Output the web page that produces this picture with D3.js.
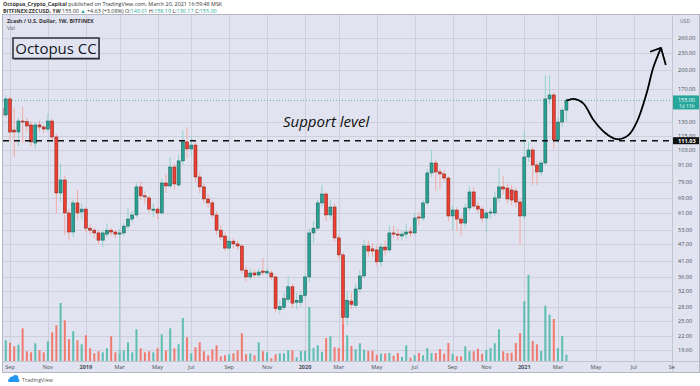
<!DOCTYPE html>
<html>
<head>
<meta charset="utf-8">
<script src="https://cdn.jsdelivr.net/npm/d3@7"></script>
<style>
  body { margin: 0; background: #fff; }
  svg { display: block; font-family: "Open Sans", "Noto Sans", sans-serif; }
</style>
</head>
<body>
<div id="chart"></div>
<script>
// weekly ZEC/USD candles, first week starts 2018-08-20
var firstWeek = "2018-08-20";
var opens = [145, 137.4, 156.9, 121.3, 119.3, 130.7, 130.0, 126.5, 108.9, 126.5,
  124.4, 122.3, 130.7, 114.5, 72.0, 80.2, 61.0, 52.1, 66.3, 61.5,
  63.0, 53.8, 52.9, 51.7, 48.7, 51.2, 52.9, 52.1, 51.2, 51.7,
  54.7, 58.0, 60.0, 75.7, 70.3, 69.1, 62.4, 63.0, 61.0, 78.2,
  76.3, 89.3, 76.9, 93.9, 109.9, 103.7, 107.1, 82.2, 75.7, 68.5,
  66.3, 60.0, 52.9, 50.4, 45.6, 48.3, 47.2, 46.4, 38.0, 35.9,
  37.1, 36.5, 37.7, 37.1, 37.1, 35.9, 27.4, 27.9, 29.8, 33.1,
  29.1, 29.1, 30.8, 35.9, 51.7, 53.8, 66.3, 71.4, 60.0, 64.1,
  49.6, 43.1, 25.7, 29.4, 28.4, 32.5, 36.2, 46.4, 45.3, 44.9,
  40.7, 46.0, 44.9, 51.7, 51.2, 50.4, 51.2, 52.2, 51.7, 59.0,
  58.5, 66.3, 85.0, 92.3, 85.7, 84.3, 81.5, 59.5, 62.5, 58.0,
  56.1, 63.6, 72.6, 64.6, 63.0, 58.5, 61.0, 61.0, 69.1, 75.7,
  75.0, 73.8, 73.2, 66.8, 59.5, 97.0, 102.8, 90.8, 85.7, 92.3,
  156.9, 162.2, 111.7, 129.6, 143.01];
var closes = [137, 156.9, 119.3, 119.3, 130.7, 130.0, 125.4, 109.9, 126.5, 124.4,
  122.3, 130.7, 114.5, 72.0, 80.2, 61.0, 52.1, 66.3, 61.0, 63.0,
  53.8, 52.9, 51.7, 48.7, 51.7, 52.9, 52.1, 51.2, 51.7, 54.7,
  58.0, 60.0, 75.7, 70.3, 69.7, 63.0, 63.0, 61.0, 78.2, 76.3,
  89.3, 77.6, 93.9, 109.9, 103.7, 107.1, 82.2, 75.7, 68.5, 66.3,
  60.0, 52.9, 50.0, 45.6, 48.3, 47.2, 46.4, 38.0, 35.9, 37.1,
  36.5, 37.4, 37.3, 37.6, 35.9, 27.6, 28.1, 30.0, 33.1, 28.9,
  29.6, 30.8, 35.9, 51.7, 53.8, 66.3, 71.4, 60.0, 64.1, 49.6,
  43.1, 25.7, 29.6, 28.6, 32.5, 36.2, 46.4, 44.5, 44.5, 40.7,
  46.0, 44.9, 51.7, 51.2, 50.8, 51.2, 52.1, 51.7, 58.5, 58.5,
  66.3, 85.0, 92.3, 85.7, 84.3, 81.5, 59.5, 62.5, 58.0, 56.1,
  63.6, 72.6, 64.6, 63.0, 58.5, 61.0, 61.5, 69.1, 75.7, 74.4,
  68.5, 67.9, 66.8, 59.5, 97.0, 102.8, 90.8, 85.7, 92.3, 156.9,
  162.2, 111.7, 129.6, 143.0, 155.0];
var highs = [150, 162, 160, 146, 134, 147, 134, 130, 129, 131,
  127, 139, 133, 117, 92, 83, 63, 68, 74, 66,
  64, 55.5, 54, 53, 53, 56, 54, 53, 53.5, 56,
  63.6, 62, 78, 79, 73, 70.5, 66, 64, 81, 84,
  97, 92, 99, 121, 124, 115, 109, 86, 78, 71,
  68, 62, 55, 52, 50, 49.5, 48.5, 47.2, 39.5, 38.5,
  38.2, 38.4, 42, 38.8, 38, 36.5, 29.5, 31.5, 36, 34,
  31.5, 32, 37, 53.5, 57, 68, 77, 72.5, 68, 66,
  51, 44, 32, 31.5, 34, 38, 49, 48.5, 47.5, 46.5,
  47.5, 48.5, 55, 55, 53.5, 53, 56, 54.5, 61, 61.5,
  68, 88, 102.8, 95, 88, 87, 83, 65, 64, 60,
  66, 76, 75.7, 67, 64.5, 62.5, 63.5, 73, 89, 83,
  78, 77, 75, 69, 121, 110, 105, 94, 95, 191,
  191, 166, 134, 147, 158.19];
var lows = [133, 135, 110, 97, 106, 109, 120, 106, 104, 120,
  118, 119, 110, 61, 67, 51, 48.7, 50, 58, 58,
  52, 51, 49.5, 47, 46, 50, 50.5, 49.5, 19, 50.5,
  53.5, 56.5, 59, 68, 66, 61, 59, 58, 60, 72,
  75, 74, 76, 91, 96, 98, 79, 72, 66, 63.5,
  58.5, 51, 48.5, 44.5, 44.8, 45.5, 45, 37, 34.5, 35,
  35.5, 35.6, 36.4, 36.3, 35, 26.8, 26.5, 27.2, 29, 27.8,
  27.5, 28.2, 30, 34.5, 47.5, 52.5, 64, 57, 58, 48,
  41.5, 24.3, 24, 27.5, 27.8, 31.5, 35.5, 42.5, 42.5, 39.5,
  39, 43, 44.2, 49.5, 48.5, 48.5, 49.5, 50, 51, 55,
  57, 65, 82, 73, 74, 79, 57, 53, 52.5, 50.8,
  54, 62, 63, 61, 56.5, 52, 58, 59.5, 67, 71,
  66, 65, 64, 46.8, 58, 93, 76.9, 76.9, 83, 91,
  150, 103.7, 109, 125, 130.17];
var volumes = [14, 20.7, 18.3, 14.7, 16.3, 32.7, 9.7, 8.7, 17.7, 10.7,
  8.7, 19.7, 28.7, 35.7, 58, 40.7, 21.7, 29.7, 20.7, 16.7,
  25.7, 12.7, 7.7, 9.7, 8.7, 12.7, 24.7, 8.7, 10.7, 10.7,
  18.7, 8.7, 31.7, 12.7, 8.7, 9.7, 8.7, 12.7, 26.7, 10.7,
  32.7, 12.7, 16.7, 43, 23.7, 7.7, 13.7, 18.7, 9.7, 5.7,
  11.7, 15.7, 4.7, 5.7, 6.7, 7.7, 10.7, 27.7, 6.7, 7.7,
  5.7, 18.7, 9.7, 8.7, 2.7, 6.7, 7.7, 7.7, 10.7, 10.7,
  3.7, 10, 10, 54, 13, 15.7, 9, 23, 24.7, 13.7,
  13, 44, 25.7, 15, 11.7, 17.7, 11.3, 10, 10.3, 6.3,
  7.3, 7.3, 8, 5.3, 8, 4, 15.7, 3.3, 5.7, 8,
  5.7, 13, 8, 8, 12, 7.3, 18, 7.3, 4.7, 4.7,
  14.7, 9.7, 9.7, 12.3, 7.3, 11, 13, 17.7, 31.7, 9.7,
  8, 8.3, 18, 28, 59.7, 86.3, 20, 16.7, 10, 55.3,
  46.3, 42, 13, 25, 6.3];

var priceTicks = [260, 230, 200, 170, 130, 115, 103, 91, 79, 69, 61, 53, 47, 41, 36, 32, 28, 25, 22, 19.6];
var timeTicks = ["2018-09-03", "2018-11-05", "2019-01-07", "2019-03-04", "2019-05-06", "2019-07-01",
  "2019-09-02", "2019-11-04", "2020-01-06", "2020-03-02", "2020-05-04", "2020-07-06",
  "2020-09-07", "2020-11-02", "2021-01-04", "2021-03-01", "2021-05-03", "2021-07-05", "2021-09-06"];
var timeLabels = ["Sep", "Nov", "2019", "Mar", "May", "Jul", "Sep", "Nov", "2020", "Mar", "May", "Jul",
  "Sep", "Nov", "2021", "Mar", "May", "Jul", "Se"];

var lastPrice = 155.00;
var supportPrice = 111.03;

// hand-drawn forecast curve and arrow head
var curveDates = ["2021-03-15", "2021-03-18", "2021-03-27", "2021-04-12", "2021-04-29", "2021-05-18",
  "2021-06-06", "2021-06-26", "2021-07-10", "2021-07-26", "2021-08-06", "2021-08-19"];
var curvePrices = [155, 155.5, 157, 151.3, 131.8, 118.6, 112.4, 116.3, 129.8, 164.1, 202.7, 239.6];
var headDates = ["2021-08-01", "2021-08-19", "2021-08-27"];
var headPrices = [232, 239.6, 208];

var W = 700, H = 386;
var plotLeft = 3, plotRight = 672, plotTop = 14, plotBottom = 361;
var parse = d3.utcParse("%Y-%m-%d");

var start = parse(firstWeek);
var weeks = d3.utcMonday.range(start, d3.utcDay.offset(start, 7 * opens.length));
var candles = weeks.map(function (d, i) {
  return { date: d, o: opens[i], c: closes[i], h: highs[i], l: lows[i], v: volumes[i] };
});

var x = d3.scaleUtc()
  .domain([parse("2018-09-03"), parse("2021-03-01")])
  .range([10, 558]);

var y = d3.scaleLog()
  .domain([260, 19.6])
  .range([38, 350]);

var yVol = d3.scaleLinear()
  .domain([0, d3.max(volumes)])
  .range([plotBottom, plotBottom - 86.3]);

var svg = d3.select("#chart").append("svg")
  .attr("width", W)
  .attr("height", H);

// panel background
svg.append("rect")
  .attr("x", 2.5).attr("y", plotTop + 0.5)
  .attr("width", W - 3).attr("height", 372 - plotTop)
  .attr("fill", "#e1e4f0")
  .attr("stroke", "#b4b7c2");

var defs = svg.append("defs");
defs.append("clipPath").attr("id", "plot")
  .append("rect")
  .attr("x", plotLeft).attr("y", plotTop + 1)
  .attr("width", plotRight - plotLeft).attr("height", plotBottom - plotTop - 1);

// grid
var grid = svg.append("g");
grid.selectAll(".hg")
  .data(priceTicks)
  .enter().append("line")
  .attr("x1", plotLeft).attr("x2", plotRight)
  .attr("y1", function (d) { return Math.round(y(d)) + 0.5; })
  .attr("y2", function (d) { return Math.round(y(d)) + 0.5; })
  .attr("stroke", "#cdd0dc");
grid.selectAll(".vg")
  .data(timeTicks)
  .enter().append("line")
  .attr("x1", function (d) { return Math.round(x(parse(d))) + 0.5; })
  .attr("x2", function (d) { return Math.round(x(parse(d))) + 0.5; })
  .attr("y1", plotTop + 1).attr("y2", plotBottom)
  .attr("stroke", "#cdd0dc");

// axis separators
svg.append("line").attr("x1", plotRight + 0.5).attr("x2", plotRight + 0.5)
  .attr("y1", plotTop).attr("y2", 372).attr("stroke", "#c3c6d1");
svg.append("line").attr("x1", plotLeft).attr("x2", W - 1)
  .attr("y1", plotBottom + 0.5).attr("y2", plotBottom + 0.5).attr("stroke", "#c3c6d1");

var plot = svg.append("g").attr("clip-path", "url(#plot)");

// volume
plot.append("g").selectAll("rect")
  .data(candles)
  .enter().append("rect")
  .attr("x", function (d) { return x(d.date) - 1; })
  .attr("width", 2)
  .attr("y", function (d) { return yVol(d.v); })
  .attr("height", function (d) { return plotBottom - yVol(d.v); })
  .attr("fill", function (d) { return d.c >= d.o ? "#5dbdb1" : "#f07a6f"; });

// last price dotted line
plot.append("line")
  .attr("x1", plotLeft).attr("x2", plotRight)
  .attr("y1", y(lastPrice)).attr("y2", y(lastPrice))
  .attr("stroke", "#4fb8ad").attr("stroke-width", 1)
  .attr("stroke-dasharray", "1,2");

// candles
var cg = plot.append("g").selectAll("g")
  .data(candles)
  .enter().append("g");

cg.append("line")
  .attr("x1", function (d) { return x(d.date); })
  .attr("x2", function (d) { return x(d.date); })
  .attr("y1", function (d) { return y(d.h); })
  .attr("y2", function (d) { return y(d.l); })
  .attr("stroke", function (d) { return d.c >= d.o ? "#93d2ca" : "#f2aaa4"; })
  .attr("stroke-width", 1);

cg.append("rect")
  .attr("x", function (d) { return x(d.date) - 1.5; })
  .attr("width", 3)
  .attr("y", function (d) { return y(Math.max(d.o, d.c)); })
  .attr("height", function (d) { return Math.max(1, Math.abs(y(d.o) - y(d.c))); })
  .attr("fill", function (d) { return d.c >= d.o ? "#26a193" : "#ef3d30"; })
  .attr("stroke", function (d) { return d.c >= d.o ? "#1d5a53" : "#7a231c"; })
  .attr("stroke-width", 0.5);

// support level dashed line
plot.append("line")
  .attr("x1", plotLeft).attr("x2", plotRight)
  .attr("y1", y(supportPrice)).attr("y2", y(supportPrice))
  .attr("stroke", "#111").attr("stroke-width", 1.6)
  .attr("stroke-dasharray", "6,5");

// forecast curve
var curveLine = d3.line()
  .x(function (d) { return x(parse(d[0])); })
  .y(function (d) { return y(d[1]); })
  .curve(d3.curveCatmullRom);
svg.append("path")
  .datum(d3.zip(curveDates, curvePrices))
  .attr("d", curveLine)
  .attr("fill", "none").attr("stroke", "#000").attr("stroke-width", 1.8);
svg.append("path")
  .datum(d3.zip(headDates, headPrices))
  .attr("d", d3.line().x(function (d) { return x(parse(d[0])); }).y(function (d) { return y(d[1]); }))
  .attr("fill", "none").attr("stroke", "#000").attr("stroke-width", 1.8)
  .attr("stroke-linejoin", "round");

// texts
svg.append("text")
  .attr("x", 283).attr("y", 127)
  .attr("font-size", 15).attr("font-style", "italic")
  .attr("fill", "#111")
  .text("Support level");

var box = svg.append("g");
box.append("rect")
  .attr("x", 14).attr("y", 39).attr("width", 86).attr("height", 21)
  .attr("fill", "#9a9ca4");
box.append("rect")
  .attr("x", 13).attr("y", 38).attr("width", 86).attr("height", 20.5)
  .attr("fill", "#e1e4f0").attr("stroke", "#2a2c33").attr("stroke-width", 1.5);
box.append("text")
  .attr("x", 56).attr("y", 54)
  .attr("text-anchor", "middle")
  .attr("font-size", 15)
  .attr("fill", "#131722")
  .text("Octopus CC");

// price axis labels (115 sits partly under the support label, as in the original)
svg.append("g").selectAll("text")
  .data(priceTicks)
  .enter().append("text")
  .attr("x", 678)
  .attr("y", function (d) { return y(d) + 2; })
  .attr("font-size", 5.6)
  .attr("fill", "#4a4e59")
  .text(function (d) { return d3.format(".2f")(d); });

svg.append("text")
  .attr("x", 685).attr("y", 23)
  .attr("text-anchor", "middle")
  .attr("font-size", 5.2).attr("fill", "#6a6e79")
  .text("USD");

// last price label
svg.append("rect")
  .attr("x", plotRight + 1).attr("y", y(lastPrice) - 5)
  .attr("width", 26).attr("height", 14)
  .attr("fill", "#26a69a");
svg.append("text")
  .attr("x", 678).attr("y", y(lastPrice) + 1.2)
  .attr("font-size", 5.4).attr("fill", "#fff")
  .text(d3.format(".2f")(lastPrice));
svg.append("text")
  .attr("x", 679).attr("y", y(lastPrice) + 7.6)
  .attr("font-size", 4.8).attr("fill", "#e8f6f4")
  .text("1d 11h");

// support price label
svg.append("rect")
  .attr("x", plotRight + 1).attr("y", y(supportPrice) - 3.5)
  .attr("width", 26).attr("height", 7)
  .attr("fill", "#111");
svg.append("text")
  .attr("x", 678).attr("y", y(supportPrice) + 2)
  .attr("font-size", 5.6).attr("font-weight", "bold").attr("fill", "#fff")
  .text(d3.format(".2f")(supportPrice));

// time axis labels
svg.append("g").selectAll("text")
  .data(timeTicks)
  .enter().append("text")
  .attr("x", function (d) { return x(parse(d)); })
  .attr("y", 369)
  .attr("text-anchor", "middle")
  .attr("font-size", 5.6)
  .attr("font-weight", function (d, i) { return /^\d{4}$/.test(timeLabels[i]) ? "bold" : "normal"; })
  .attr("fill", "#4a4e59")
  .text(function (d, i) { return timeLabels[i]; });

// header
var h1 = svg.append("text").attr("x", 3).attr("y", 6).attr("font-size", 5.4).attr("fill", "#333");
h1.append("tspan").attr("font-weight", "bold").text("Octopus_Crypto_Capital");
h1.append("tspan").text(" published on TradingView.com, March 20, 2021 16:59:48 MSK");

var h2 = svg.append("text").attr("x", 3).attr("y", 12.5).attr("font-size", 5.4).attr("fill", "#333");
h2.append("tspan").attr("font-weight", "bold").text("BITFINEX:ZECUSD, 1W");
h2.append("tspan").text(" 155.00 ");
h2.append("tspan").attr("fill", "#26a69a").text("\u25B2");
h2.append("tspan").text(" +4.63 (+3.08%) O:");
h2.append("tspan").attr("fill", "#26a69a").text("143.01");
h2.append("tspan").text(" H:");
h2.append("tspan").attr("fill", "#26a69a").text("158.19");
h2.append("tspan").text(" L:");
h2.append("tspan").attr("fill", "#26a69a").text("130.17");
h2.append("tspan").text(" C:");
h2.append("tspan").attr("fill", "#26a69a").text("155.00");

svg.append("text").attr("x", 7).attr("y", 23)
  .attr("font-size", 5.4).attr("font-weight", "bold").attr("fill", "#333")
  .text("Zcash / U.S. Dollar, 1W, BITFINEX");
svg.append("text").attr("x", 7).attr("y", 29.5)
  .attr("font-size", 5.4).attr("fill", "#555")
  .text("Vol");

// footer logo
var logo = svg.append("g").attr("fill", "#2196f3");
logo.append("circle").attr("cx", 12).attr("cy", 379).attr("r", 2.6);
logo.append("circle").attr("cx", 15.5).attr("cy", 378).attr("r", 3);
logo.append("rect").attr("x", 8).attr("y", 379).attr("width", 11.5).attr("height", 3).attr("rx", 1.5);
svg.append("text").attr("x", 22).attr("y", 382)
  .attr("font-size", 5.4).attr("fill", "#555")
  .text("TradingView");
</script>
</body>
</html>
